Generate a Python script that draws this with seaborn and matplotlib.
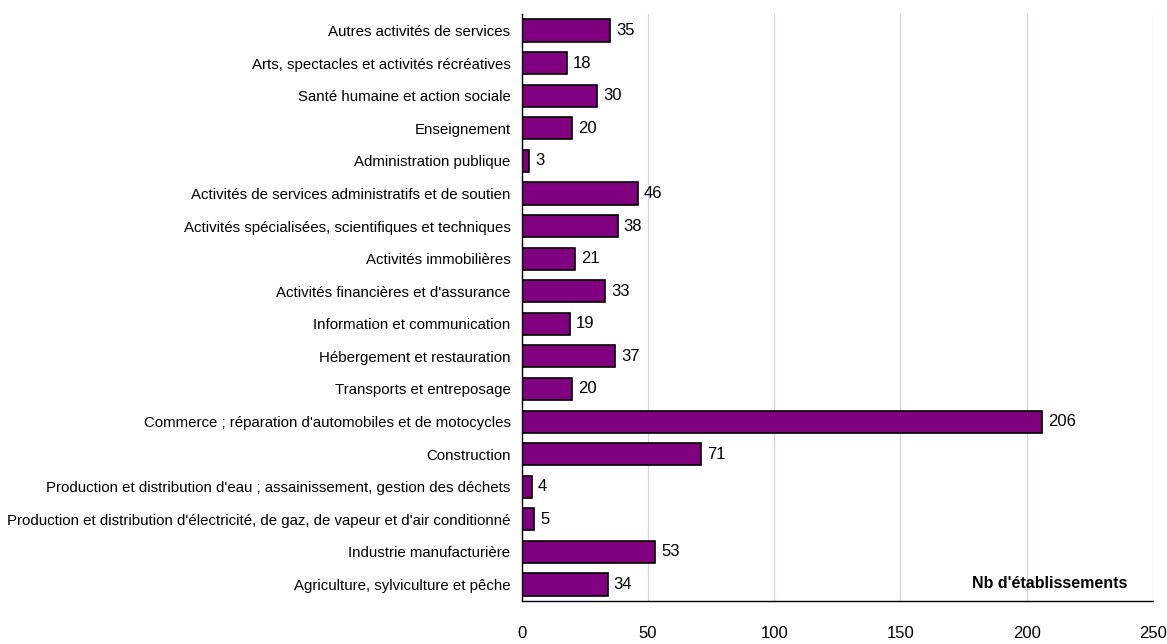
import matplotlib.pyplot as plt
import pandas as pd
import seaborn as sns

secteurs = [
    "Autres activités de services",
    "Arts, spectacles et activités récréatives",
    "Santé humaine et action sociale",
    "Enseignement",
    "Administration publique",
    "Activités de services administratifs et de soutien",
    "Activités spécialisées, scientifiques et techniques",
    "Activités immobilières",
    "Activités financières et d'assurance",
    "Information et communication",
    "Hébergement et restauration",
    "Transports et entreposage",
    "Commerce ; réparation d'automobiles et de motocycles",
    "Construction",
    "Production et distribution d'eau ; assainissement, gestion des déchets",
    "Production et distribution d'électricité, de gaz, de vapeur et d'air conditionné",
    "Industrie manufacturière",
    "Agriculture, sylviculture et pêche",
]
nb_etab = [35, 18, 30, 20, 3, 46, 38, 21, 33, 19, 37, 20, 206, 71, 4, 5, 53, 34]
x_ticks = [0, 50, 100, 150, 200, 250]

df = pd.DataFrame({"secteur": secteurs, "nb": nb_etab})

sns.set_style("white")
plt.rcParams["font.family"] = ["Liberation Sans", "DejaVu Sans"]
plt.rcParams["text.color"] = "black"

fig = plt.figure(figsize=(11.67, 6.44), dpi=100)
ax = fig.add_axes([0.447, 0.067, 0.541, 0.911])

sns.barplot(data=df, x="nb", y="secteur", color="#800080", edgecolor="black",
            linewidth=1.2, width=0.68, saturation=1, ax=ax)

ax.set_xlim(0, 250)
ax.set_ylim(len(secteurs) - 0.5, -0.5)
ax.set_xticks(x_ticks)
ax.xaxis.grid(True, color="#d0d0f4", linewidth=0.9)
ax.set_axisbelow(True)

for sp in ["top", "right"]:
    ax.spines[sp].set_visible(False)
for sp in ["left", "bottom"]:
    ax.spines[sp].set_color("black")
    ax.spines[sp].set_linewidth(1.0)

# ticks between categories on the y axis
ax.set_yticks([i - 0.5 for i in range(len(secteurs) + 1)], minor=True)
ax.tick_params(axis="y", which="major", length=0, labelsize=10.8, pad=8, labelcolor="black")
ax.tick_params(axis="y", which="minor", length=5, direction="out", color="black")
ax.tick_params(axis="x", length=5, direction="out", color="black", labelsize=12, pad=13,
               labelcolor="black")

ax.set_xlabel("")
ax.set_ylabel("")

for i, v in enumerate(nb_etab):
    ax.text(v + 2.4, i, str(v), va="center", ha="left", fontsize=12, color="black")

ax.text(0.96, 0.03, "Nb d'établissements", transform=ax.transAxes,
        ha="right", va="center", fontsize=11.5, fontweight="bold", color="black")

fig.savefig("out.png", dpi=100, facecolor="white")
